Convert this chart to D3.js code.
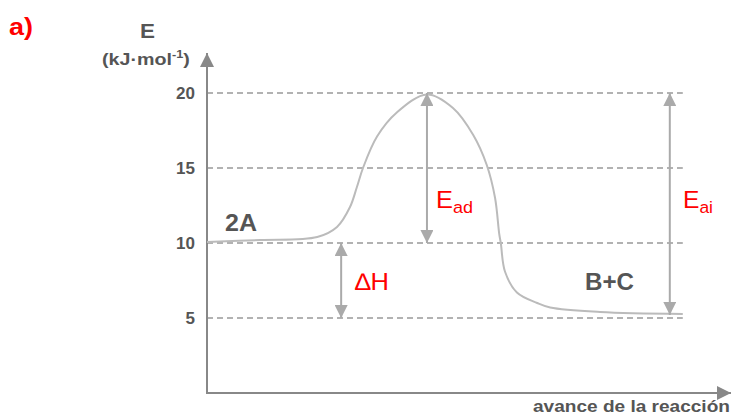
<!DOCTYPE html>
<html>
<head>
<meta charset="utf-8">
<script src="https://cdn.jsdelivr.net/npm/d3@7"></script>
<style>
  body { margin: 0; background: #fff; }
  svg { display: block; font-family: "Liberation Sans", Arial, sans-serif; }
</style>
</head>
<body>
<svg class="profile" width="732" height="417"></svg>
<script>
// energy profile, E in kJ/mol vs reaction progress (0..100)
var progress = [0, 10.2, 21.2, 25, 27.5, 28.8, 30, 32.7, 36.5, 42.3, 47.3, 51.2, 53.8, 55.4, 56.2, 56.5, 57.3, 59.6, 63.5, 66, 75.6, 91.5];
var energy   = [10.07, 10.2, 10.4, 11.07, 12.4, 13.7, 15, 17.1, 18.7, 19.9, 19.0, 17.2, 15.2, 13, 10.6, 10, 8.1, 6.7, 6.0, 5.7, 5.4, 5.27];
var levels = [5, 10, 15, 20];
var arrowNames = ["Ead", "dH", "Eai"];
var arrowX = [42.3, 25.8, 89];
var arrowFrom = [10, 5, 5.2];
var arrowTo = [20, 10, 20];

(function () {
  var svg = d3.select(".profile");
  var grey = "#aaa";
  var dark = "#555";

  var x = d3.scaleLinear().domain([0, 100]).range([207, 727]);
  var y = d3.scaleLinear().domain([0, 20]).range([393, 93]);

  var defs = svg.append("defs");
  function head(id, colour, size) {
    defs.append("marker")
      .attr("id", id)
      .attr("viewBox", "0 0 10 10")
      .attr("refX", 10).attr("refY", 5)
      .attr("markerUnits", "userSpaceOnUse")
      .attr("markerWidth", size).attr("markerHeight", size)
      .attr("orient", "auto-start-reverse")
      .append("path")
        .attr("d", "M0,0 L10,5 L0,10 Z")
        .attr("fill", colour);
  }
  head("axhead", "#888", 14);
  head("arhead", grey, 13);

  // the source picture has its lettering a bit wide, so stretch to a width
  function stretch(sel, x0, w) {
    var b = sel.node().getBBox();
    var k = w / b.width;
    sel.attr("transform", "translate(" + x0 + ",0) scale(" + k + ",1) translate(" + (-b.x) + ",0)");
  }

  // dashed levels
  svg.append("g").selectAll("line")
    .data(levels)
    .enter().append("line")
      .attr("x1", x(0)).attr("x2", x(91.5))
      .attr("y1", function(d) { return y(d); })
      .attr("y2", function(d) { return y(d); })
      .attr("stroke", "#999")
      .attr("stroke-width", 1.6)
      .attr("stroke-dasharray", "6,4");

  // tick labels
  var yaxis = d3.axisLeft(y).tickValues(levels).tickSize(0).tickPadding(12);
  var ga = svg.append("g")
    .attr("transform", "translate(" + x(0) + ",0)")
    .call(yaxis);
  ga.select(".domain").remove();
  ga.selectAll("text")
    .attr("fill", dark)
    .attr("font-size", 17)
    .attr("font-weight", "bold")
    .attr("font-family", "Liberation Sans, Arial, sans-serif");

  // axes
  svg.append("line")
    .attr("x1", x(0)).attr("x2", x(0))
    .attr("y1", y(0)).attr("y2", 53)
    .attr("stroke", "#888").attr("stroke-width", 2)
    .attr("marker-end", "url(#axhead)");
  svg.append("line")
    .attr("x1", x(0) - 1).attr("x2", 731)
    .attr("y1", y(0)).attr("y2", y(0))
    .attr("stroke", "#888").attr("stroke-width", 2)
    .attr("marker-end", "url(#axhead)");

  // curve
  var line = d3.line()
    .x(function(d, i) { return x(progress[i]); })
    .y(function(d) { return y(d); })
    .curve(d3.curveCatmullRom.alpha(0.5));
  svg.append("path")
    .attr("d", line(energy))
    .attr("fill", "none")
    .attr("stroke", "#bbb")
    .attr("stroke-width", 2);

  // double arrows
  svg.append("g").selectAll("line")
    .data(arrowNames)
    .enter().append("line")
      .attr("x1", function(d, i) { return x(arrowX[i]); })
      .attr("x2", function(d, i) { return x(arrowX[i]); })
      .attr("y1", function(d, i) { return y(arrowFrom[i]); })
      .attr("y2", function(d, i) { return y(arrowTo[i]); })
      .attr("stroke", grey)
      .attr("stroke-width", 2)
      .attr("marker-start", "url(#arhead)")
      .attr("marker-end", "url(#arhead)");

  // red labels
  function sublabel(tx, ty, w, main, sub) {
    var t = svg.append("text")
      .attr("x", 0).attr("y", ty)
      .attr("fill", "#f00")
      .attr("font-size", 24);
    t.append("tspan").text(main);
    if (sub) {
      t.append("tspan").attr("font-size", 17).attr("dy", 5).text(sub);
    }
    stretch(t, tx, w);
  }
  sublabel(436, 208, 37, "E", "ad");
  sublabel(683, 208, 30, "E", "ai");
  sublabel(355, 290, 34, "\u2206H");

  // species
  var s1 = svg.append("text").attr("y", 231)
    .attr("fill", dark).attr("font-size", 23).attr("font-weight", "bold")
    .text("2A");
  stretch(s1, 225, 32);
  var s2 = svg.append("text").attr("y", 290)
    .attr("fill", dark).attr("font-size", 23).attr("font-weight", "bold")
    .text("B+C");
  stretch(s2, 585, 49);

  // titles
  var a = svg.append("text").attr("y", 35)
    .attr("fill", "#f00").attr("font-size", 24).attr("font-weight", "bold")
    .text("a)");
  stretch(a, 9, 24);
  var e = svg.append("text").attr("y", 38)
    .attr("fill", dark).attr("font-size", 21).attr("font-weight", "bold")
    .text("E");
  stretch(e, 140, 15);
  var unit = svg.append("text").attr("y", 65)
    .attr("fill", dark).attr("font-size", 17).attr("font-weight", "bold");
  unit.append("tspan").text("(kJ\u00b7mol");
  unit.append("tspan").attr("font-size", 11).attr("dy", -7).text("-1");
  unit.append("tspan").attr("dy", 7).text(")");
  stretch(unit, 102, 88);
  var xt = svg.append("text").attr("y", 412)
    .attr("fill", dark).attr("font-size", 17).attr("font-weight", "bold")
    .text("avance de la reacci\u00f3n");
  stretch(xt, 533, 197);
})();
</script>
</body>
</html>
